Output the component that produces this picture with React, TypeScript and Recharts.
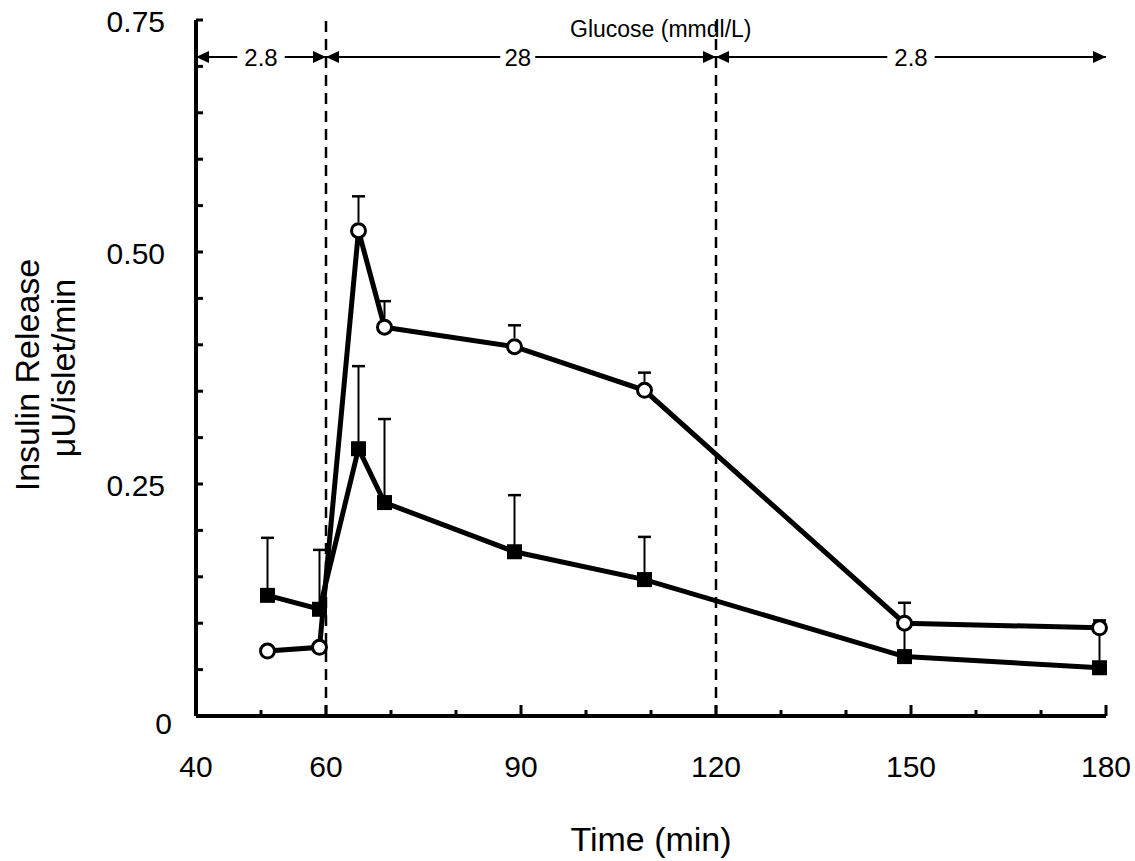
import React from "react";
import {
  LineChart,
  Line,
  XAxis,
  YAxis,
  ErrorBar,
  ReferenceLine,
  ReferenceDot,
  Label,
} from "recharts";

// sampling times (min)
const times = [51, 59, 65, 69, 89, 109, 149, 179];

// open circles
const openValues = [0.07, 0.074, 0.523, 0.419, 0.398, 0.351, 0.1, 0.095];
const openErrors = [0, 0, 0.037, 0.028, 0.023, 0.019, 0, 0];

// filled squares
const filledValues = [0.13, 0.115, 0.288, 0.23, 0.177, 0.147, 0.064, 0.052];
const filledErrors = [0.062, 0.064, 0.089, 0.09, 0.061, 0.046, 0.058, 0.051];

const xTicks = [40, 50, 60, 70, 80, 90, 100, 110, 120, 130, 140, 150, 160, 170, 180];
const xLabelled = [40, 60, 90, 120, 150, 180];
const yTicks = [0, 0.05, 0.1, 0.15, 0.2, 0.25, 0.3, 0.35, 0.4, 0.45, 0.5, 0.55, 0.6, 0.65, 0.7, 0.75];
const yLabelValues = [0, 0.25, 0.5, 0.75];
const yLabelTexts = ["0", "0.25", "0.50", "0.75"];

// glucose phases across the top
const phaseStart = [40, 60, 120];
const phaseEnd = [60, 120, 180];
const phaseLabel = ["2.8", "28", "2.8"];
const phaseLabelAt = [50, 89.5, 150];
const phaseSwitches = [60, 120];
const arrowLevel = 0.71;
const glucoseTitle = "Glucose (mmdl/L)";
const glucoseTitleAt = { x: 111.5, y: 0.732 };

const FONT = "'Liberation Sans', Arial, Helvetica, sans-serif";
const CHART_W = 1135;
const CHART_H = 861;
const MARGIN = { top: 20, right: 29, left: 116, bottom: 85 };
const Y_AXIS_W = 80;
const X_AXIS_H = 60;
const PLOT_W = CHART_W - MARGIN.left - MARGIN.right - Y_AXIS_W;
const PLOT_H = CHART_H - MARGIN.top - MARGIN.bottom - X_AXIS_H;
const PX_PER_MIN = PLOT_W / (180 - 40);
const CIRCLE_R = 7;
// error stems of the open circles start at the rim, not the centre
const rimOffset = ((CIRCLE_R + 1.5) * 0.75) / PLOT_H;
const LABEL_FS = 24;

const data = times.map((t, i) => ({
  time: t,
  open: openValues[i],
  openErr: openErrors[i] > 0 ? [-rimOffset, openErrors[i]] : undefined,
  openTop: openErrors[i] > 0 ? openValues[i] + openErrors[i] : null,
  filled: filledValues[i],
  filledErr: filledErrors[i] > 0 ? [0, filledErrors[i]] : undefined,
  filledTop: filledErrors[i] > 0 ? filledValues[i] + filledErrors[i] : null,
}));

function XTick(props: any) {
  const { x, y, payload } = props;
  const v = payload.value;
  const major = xLabelled.includes(v);
  return (
    <g>
      {v !== 40 && (
        <line x1={x} x2={x} y1={y} y2={y - (major ? 11 : 6)} stroke="#000" strokeWidth={3} />
      )}
      {major && (
        <text x={x} y={y + 61} textAnchor="middle" fontSize={30} fontFamily={FONT} fill="#000">
          {v}
        </text>
      )}
    </g>
  );
}

function YTick(props: any) {
  const { x, y, payload } = props;
  const v = payload.value;
  const idx = yLabelValues.findIndex((l) => Math.abs(l - v) < 1e-6);
  const isZero = Math.abs(v) < 1e-6;
  return (
    <g>
      {!isZero && <line x1={x} x2={x + 7} y1={y} y2={y} stroke="#000" strokeWidth={3} />}
      {idx >= 0 && (
        <text
          x={x + (isZero ? -24 : -31)}
          y={y + (isZero ? 18 : 12)}
          textAnchor="end"
          fontSize={30}
          fontFamily={FONT}
          fill="#000"
        >
          {yLabelTexts[idx]}
        </text>
      )}
    </g>
  );
}

const arrowHead = (dir: number) => (props: any) => {
  const { cx, cy } = props;
  return (
    <path
      d={`M${cx},${cy} L${cx - dir * 13},${cy - 6} L${cx - dir * 13},${cy + 6} Z`}
      fill="#000"
    />
  );
};

const textShape = (text: string, fs: number, dy: number) => (props: any) => {
  const { cx, cy } = props;
  return (
    <text x={cx} y={cy + dy} textAnchor="middle" fontSize={fs} fontFamily={FONT} fill="#000">
      {text}
    </text>
  );
};

function SquareDot(props: any) {
  const { cx, cy, index } = props;
  if (cx == null || cy == null) return null;
  return <rect key={`sq-${index}`} x={cx - 7.5} y={cy - 7.5} width={15} height={15} fill="#000" />;
}

function CircleDot(props: any) {
  const { cx, cy, index } = props;
  if (cx == null || cy == null) return null;
  return (
    <circle key={`ci-${index}`} cx={cx} cy={cy} r={CIRCLE_R} fill="#fff" stroke="#000" strokeWidth={3} />
  );
}

function CapDot(props: any) {
  const { cx, cy, index, value } = props;
  if (cx == null || cy == null || value == null) return <g key={`cap-${index}`} />;
  return <line key={`cap-${index}`} x1={cx - 6.5} x2={cx + 6.5} y1={cy} y2={cy} stroke="#000" strokeWidth={2.5} />;
}

export default function App() {
  // phase line pieces, leaving a gap for each label
  const pieces: { a: number; b: number }[] = [];
  phaseStart.forEach((s, i) => {
    const half = (phaseLabel[i].length * 0.52 * LABEL_FS) / 2 + 5;
    const gap = half / PX_PER_MIN;
    pieces.push({ a: s, b: phaseLabelAt[i] - gap });
    pieces.push({ a: phaseLabelAt[i] + gap, b: phaseEnd[i] });
  });

  return (
    <div style={{ width: CHART_W, height: CHART_H }}>
      <style>{"body{margin:0;overflow:hidden;}"}</style>
      <LineChart width={CHART_W} height={CHART_H} data={data} margin={MARGIN}>
        <XAxis
          dataKey="time"
          type="number"
          domain={[40, 180]}
          ticks={xTicks}
          interval={0}
          tick={<XTick />}
          tickLine={false}
          tickSize={0}
          tickMargin={0}
          height={X_AXIS_H}
          axisLine={{ stroke: "#000", strokeWidth: 4 }}
        >
          <Label
            content={() => (
              <text x={651} y={851} textAnchor="middle" fontSize={34} fontFamily={FONT} fill="#000">
                Time (min)
              </text>
            )}
          />
        </XAxis>
        <YAxis
          type="number"
          domain={[0, 0.75]}
          ticks={yTicks}
          interval={0}
          tick={<YTick />}
          tickLine={false}
          tickSize={0}
          tickMargin={0}
          width={Y_AXIS_W}
          axisLine={{ stroke: "#000", strokeWidth: 4 }}
        >
          <Label
            content={() => (
              <g fontFamily={FONT} fontSize={34} fill="#000">
                <text x={39} y={375} textAnchor="middle" transform="rotate(-90 39 375)">
                  Insulin Release
                </text>
                <text x={75} y={368} textAnchor="middle" transform="rotate(-90 75 368)">
                  μU/islet/min
                </text>
              </g>
            )}
          />
        </YAxis>

        {phaseSwitches.map((x) => (
          <ReferenceLine key={`sw-${x}`} x={x} stroke="#000" strokeWidth={2.5} strokeDasharray="11 7" />
        ))}
        {pieces.map((p, i) => (
          <ReferenceLine
            key={`pc-${i}`}
            segment={[
              { x: p.a, y: arrowLevel },
              { x: p.b, y: arrowLevel },
            ]}
            stroke="#000"
            strokeWidth={2}
            ifOverflow="visible"
          />
        ))}
        {phaseStart.map((s, i) => (
          <ReferenceDot key={`al-${i}`} x={s} y={arrowLevel} r={1} ifOverflow="visible" shape={arrowHead(-1)} />
        ))}
        {phaseEnd.map((e, i) => (
          <ReferenceDot key={`ar-${i}`} x={e} y={arrowLevel} r={1} ifOverflow="visible" shape={arrowHead(1)} />
        ))}
        {phaseLabel.map((l, i) => (
          <ReferenceDot
            key={`pl-${i}`}
            x={phaseLabelAt[i]}
            y={arrowLevel}
            r={1}
            ifOverflow="visible"
            shape={textShape(l, LABEL_FS, 8.5)}
          />
        ))}
        <ReferenceDot
          x={glucoseTitleAt.x}
          y={glucoseTitleAt.y}
          r={1}
          ifOverflow="visible"
          shape={textShape(glucoseTitle, 23, 0)}
        />

        <Line
          dataKey="filled"
          stroke="#000"
          strokeWidth={5}
          dot={<SquareDot />}
          activeDot={false}
          isAnimationActive={false}
        >
          <ErrorBar dataKey="filledErr" direction="y" width={0} stroke="#000" strokeWidth={2} />
        </Line>
        <Line
          dataKey="open"
          stroke="#000"
          strokeWidth={5}
          dot={<CircleDot />}
          activeDot={false}
          isAnimationActive={false}
        >
          <ErrorBar dataKey="openErr" direction="y" width={0} stroke="#000" strokeWidth={2} />
        </Line>
        {/* caps on top of the error stems */}
        <Line
          dataKey="filledTop"
          stroke="none"
          dot={<CapDot />}
          activeDot={false}
          legendType="none"
          isAnimationActive={false}
        />
        <Line
          dataKey="openTop"
          stroke="none"
          dot={<CapDot />}
          activeDot={false}
          legendType="none"
          isAnimationActive={false}
        />
      </LineChart>
    </div>
  );
}
